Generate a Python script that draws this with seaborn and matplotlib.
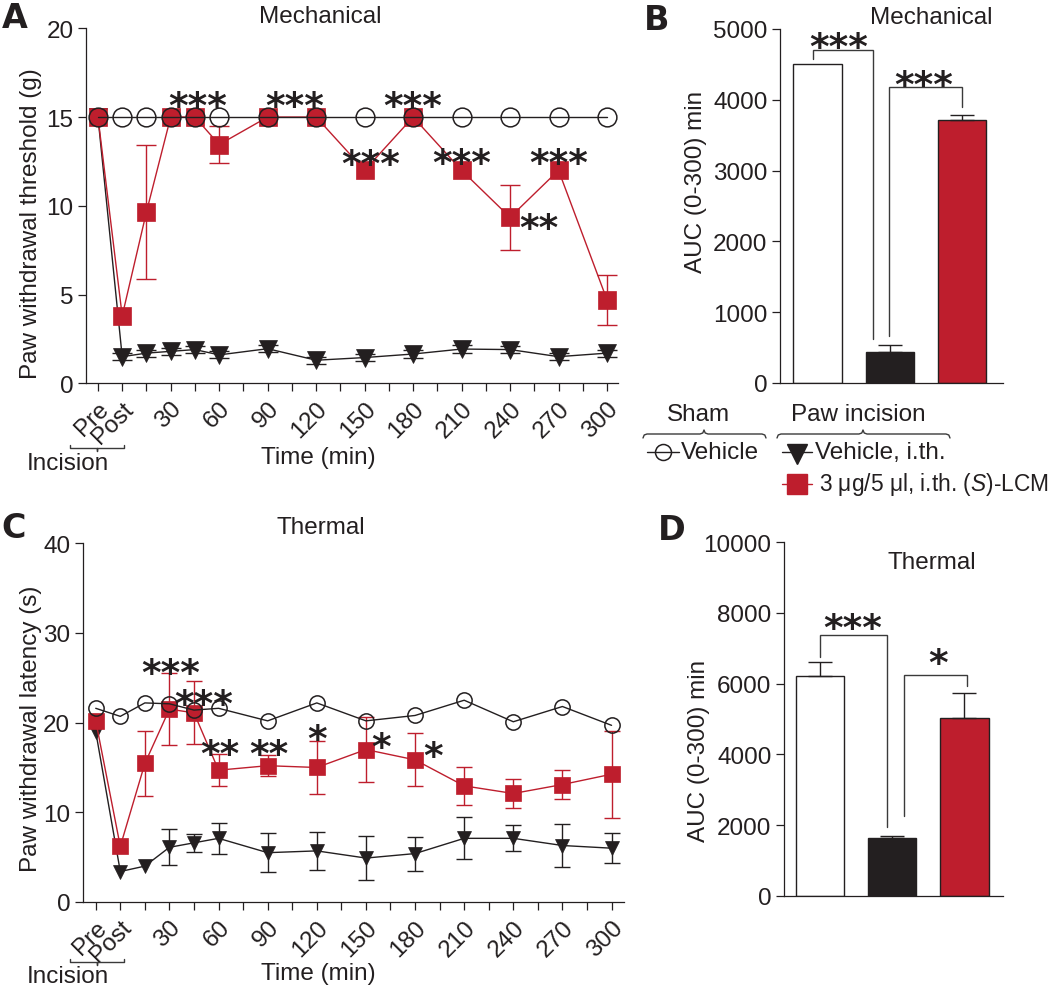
import numpy as np
import pandas as pd
import matplotlib
matplotlib.use("Agg")
import matplotlib.pyplot as plt
import seaborn as sns

# ------------------------------------------------------------------ data
time_labels = ["Pre", "Post", "15", "30", "45", "60", "90", "120", "150",
               "180", "210", "240", "270", "300"]
time_pos = [-15, 0, 15, 30, 45, 60, 90, 120, 150, 180, 210, 240, 270, 300]

xtick_pos = list(range(-15, 301, 15))
xtick_labels = ["Pre", "Post", "", "30", "", "60", "", "90", "", "120", "",
                "150", "", "180", "", "210", "", "240", "", "270", "", "300"]

# Mechanical (paw withdrawal threshold, g)
mech_sham = [15, 15, 15, 15, 15, 15, 15, 15, 15, 15, 15, 15, 15, 15]
mech_vehicle = [15.0, 1.5, 1.7, 1.8, 1.9, 1.6, 1.95, 1.3, 1.45, 1.65, 1.93, 1.9, 1.5, 1.7]
mech_vehicle_sem = [0, 0.2, 0.2, 0.2, 0.2, 0.2, 0.2, 0.2, 0.2, 0.2, 0.2, 0.2, 0.2, 0.2]
mech_lcm = [15, 3.8, 9.65, 15, 15, 13.45, 15, 15, 12, 15, 12, 9.35, 12, 4.7]
mech_lcm_sem = [0, 0, 3.75, 0, 0, 1.05, 0, 0, 0, 0, 0, 1.85, 0, 1.4]

# Thermal (paw withdrawal latency, s)
therm_sham = [21.6, 20.7, 22.2, 22.1, 21.4, 21.6, 20.2, 22.2, 20.2, 20.8, 22.5, 20.1, 21.8, 19.7]
therm_vehicle = [19.0, 3.4, 4.0, 6.1, 6.6, 7.1, 5.5, 5.7, 4.9, 5.4, 7.1, 7.1, 6.3, 6.0]
therm_vehicle_sem = [0, 0, 0, 2.0, 1.0, 1.75, 2.2, 2.1, 2.45, 1.9, 2.35, 1.45, 2.35, 1.7]
therm_lcm = [20.2, 6.2, 15.45, 21.5, 21.1, 14.7, 15.2, 15.0, 17.0, 15.85, 12.95, 12.1, 13.1, 14.25]
therm_lcm_sem = [0, 0, 3.6, 4.0, 3.5, 1.8, 1.2, 3.0, 3.6, 2.95, 2.15, 1.6, 1.6, 4.85]

# AUC bars
bar_groups = ["Sham, vehicle", "Incision, vehicle i.th.", "Incision, (S)-LCM i.th."]
auc_mech = [4510, 440, 3710]
auc_mech_sem = [0, 90, 70]
auc_therm = [6230, 1630, 5030]
auc_therm_sem = [370, 65, 710]

# significance labels: (text, x, y)
mech_stars = [("***", 47, 16.2), ("***", 107, 16.2), ("***", 180, 16.2),
              ("***", 154, 12.95), ("***", 210, 13.0), ("***", 270, 13.0),
              ("**", 258, 9.3)]
therm_stars = [("***", 31, 26.7), ("***", 51, 23.2), ("**", 61, 17.6),
               ("**", 91, 17.6), ("*", 120, 19.3), ("*", 159.5, 18.4),
               ("*", 191, 17.4)]
# brackets: (x_left, x_right, y_left_end, y_top, y_right_end, label, label_x, label_y)
mech_brackets = [(-0.06, 0.773, 4576, 4707, 624, "***", 0.29, 4883),
                 (0.995, 1.997, 659, 4185, 3893, "***", 1.475, 4356)]
therm_brackets = [(0.0, 0.93, 6745, 7377, 1953, "***", 0.45, 7849),
                  (1.16, 2.03, 2245, 6245, 5925, "*", 1.64, 6868)]

# ------------------------------------------------------------------ style
RED = "#BE1E2D"
BLACK = "#231F20"
FS = 17.5

sns.set_style("ticks")
plt.rcParams["font.family"] = ["Liberation Sans", "DejaVu Sans"]
plt.rcParams["mathtext.fontset"] = "custom"
plt.rcParams["mathtext.rm"] = "Liberation Sans"
plt.rcParams["mathtext.it"] = "Liberation Sans:italic"
plt.rcParams["axes.edgecolor"] = BLACK
plt.rcParams["axes.linewidth"] = 0.9
plt.rcParams["xtick.color"] = BLACK
plt.rcParams["ytick.color"] = BLACK
plt.rcParams["xtick.major.size"] = 6
plt.rcParams["ytick.major.size"] = 6
plt.rcParams["xtick.major.width"] = 0.9
plt.rcParams["ytick.major.width"] = 0.9
plt.rcParams["xtick.labelsize"] = FS
plt.rcParams["ytick.labelsize"] = FS
plt.rcParams["text.color"] = BLACK
plt.rcParams["axes.labelcolor"] = BLACK

W, H = 1050, 987
fig = plt.figure(figsize=(W / 100, H / 100), dpi=100)


def frac(left, top, right, bottom):
    return [left / W, 1 - bottom / H, (right - left) / W, (bottom - top) / H]


ax_a = fig.add_axes(frac(86, 29.3, 618, 384.3))
ax_b = fig.add_axes(frac(780, 30, 1003, 384))
ax_c = fig.add_axes(frac(82.8, 544.3, 624, 903))
ax_d = fig.add_axes(frac(784, 543.3, 1003, 896.7))


def star(ax, txt, x, y, **kw):
    ax.annotate(txt, (x, y), xytext=(0, -8), textcoords="offset points",
                ha="center", va="center", fontsize=27, fontweight="bold",
                family="DejaVu Sans", color=BLACK, annotation_clip=False, **kw)


def time_panel(ax, sham, veh, veh_sem, lcm, lcm_sem, ms, cap, xlim, ylim, yticks):
    df = pd.DataFrame({"time": time_pos, "sham": sham, "veh": veh, "lcm": lcm})
    lw = 1.0
    # vehicle, i.th.
    vs = np.array(veh_sem, dtype=float)
    m = vs > 0
    ax.errorbar(np.array(time_pos)[m], np.array(veh)[m], yerr=vs[m], fmt="none",
                ecolor=BLACK, elinewidth=lw, capsize=cap, capthick=lw, zorder=2.5)
    sns.lineplot(data=df, x="time", y="veh", ax=ax, color=BLACK, lw=lw,
                 marker="v", markersize=ms["v"], markerfacecolor=BLACK,
                 markeredgecolor=BLACK, markeredgewidth=0.5,
                 estimator=None, errorbar=None, sort=False, zorder=3)
    # (S)-LCM
    ls = np.array(lcm_sem, dtype=float)
    m = ls > 0
    ax.errorbar(np.array(time_pos)[m], np.array(lcm)[m], yerr=ls[m], fmt="none",
                ecolor=RED, elinewidth=lw, capsize=cap, capthick=lw, zorder=3.5)
    sns.lineplot(data=df, x="time", y="lcm", ax=ax, color=RED, lw=lw,
                 marker="s", markersize=ms["s"], markerfacecolor=RED,
                 markeredgecolor=RED, markeredgewidth=0.5,
                 estimator=None, errorbar=None, sort=False, zorder=4)
    # sham
    sns.lineplot(data=df, x="time", y="sham", ax=ax, color=BLACK, lw=lw,
                 marker="o", markersize=ms["o"], markerfacecolor="none",
                 markeredgecolor=BLACK, markeredgewidth=1.1,
                 estimator=None, errorbar=None, sort=False, zorder=5)
    ax.set_xlim(*xlim)
    ax.set_ylim(*ylim)
    ax.set_yticks(yticks)
    ax.set_xticks(xtick_pos)
    ax.set_xticklabels(xtick_labels, rotation=45, ha="right", va="top",
                       rotation_mode="anchor")
    ax.tick_params(axis="x", pad=4)
    ax.tick_params(axis="y", pad=3)
    sns.despine(ax=ax)
    ax.spines["left"].set_bounds(ylim[0], ylim[1])


time_panel(ax_a, mech_sham, mech_vehicle, mech_vehicle_sem, mech_lcm, mech_lcm_sem,
           {"v": 13.5, "s": 13.5, "o": 13.5}, 7, (-22.4, 306.8), (0, 20), [0, 5, 10, 15, 20])
time_panel(ax_c, therm_sham, therm_vehicle, therm_vehicle_sem, therm_lcm, therm_lcm_sem,
           {"v": 10, "s": 11.5, "o": 11}, 5.8, (-22.9, 307.6), (0, 40), [0, 10, 20, 30, 40])

ax_a.set_ylabel("Paw withdrawal threshold (g)", fontsize=FS)
ax_a.yaxis.set_label_coords(-0.083, 0.454)
ax_a.set_xlabel("Time (min)", fontsize=FS)
ax_a.xaxis.set_label_coords(0.436, -0.178)
ax_a.text(0.44, 1.034, "Mechanical", transform=ax_a.transAxes, ha="center",
          va="center", fontsize=FS)

ax_c.set_ylabel("Paw withdrawal latency (s)", fontsize=FS)
ax_c.yaxis.set_label_coords(-0.075, 0.485)
ax_c.set_xlabel("Time (min)", fontsize=FS)
ax_c.xaxis.set_label_coords(0.435, -0.168)
ax_c.text(0.44, 1.045, "Thermal", transform=ax_c.transAxes, ha="center",
          va="center", fontsize=FS)

for txt, x, y in mech_stars:
    star(ax_a, txt, x, y, zorder=6)
for txt, x, y in therm_stars:
    star(ax_c, txt, x, y, zorder=6)


def bar_panel(ax, vals, sems, xlim, ylim, yticks, brackets):
    df = pd.DataFrame({"group": bar_groups, "auc": vals})
    pal = dict(zip(bar_groups, ["white", BLACK, RED]))
    sns.barplot(data=df, x="group", y="auc", hue="group", palette=pal, legend=False,
                width=0.67, edgecolor=BLACK, linewidth=1.0, errorbar=None, ax=ax,
                saturation=1)
    s = np.array(sems, dtype=float)
    m = s > 0
    xs = np.arange(len(vals))[m]
    ax.errorbar(xs, np.array(vals)[m], yerr=[np.zeros(m.sum()), s[m]], fmt="none",
                ecolor=BLACK, elinewidth=1.0, capsize=8.4, capthick=1.0, zorder=1)
    for xl, xr, yl, yt, yr, lab, lx, ly in brackets:
        ax.plot([xl, xl, xr, xr], [yl, yt, yt, yr], color="#3a3a3a", lw=1.0,
                solid_joinstyle="miter", clip_on=False)
        star(ax, lab, lx, ly)
    ax.set_xlim(*xlim)
    ax.set_ylim(*ylim)
    ax.set_yticks(yticks)
    ax.set_xticks([])
    ax.set_xlabel("")
    ax.set_ylabel("AUC (0-300) min", fontsize=FS)
    ax.tick_params(axis="y", pad=3)
    sns.despine(ax=ax)


bar_panel(ax_b, auc_mech, auc_mech_sem, (-0.52, 2.57), (0, 5000),
          [0, 1000, 2000, 3000, 4000, 5000], mech_brackets)
ax_b.yaxis.set_label_coords(-0.327, 0.571)
ax_b.text(0.68, 1.034, "Mechanical", transform=ax_b.transAxes, ha="center",
          va="center", fontsize=FS)

bar_panel(ax_d, auc_therm, auc_therm_sem, (-0.503, 2.536), (0, 10000),
          [0, 2000, 4000, 6000, 8000, 10000], therm_brackets)
ax_d.yaxis.set_label_coords(-0.338, 0.412)
ax_d.text(0.676, 0.944, "Thermal", transform=ax_d.transAxes, ha="center",
          va="center", fontsize=FS)

# ------------------------------------------------------------------ overlay (pixel coords)
ov = fig.add_axes([0, 0, 1, 1], zorder=10)
ov.set_xlim(0, W)
ov.set_ylim(H, 0)
ov.axis("off")
ov.patch.set_alpha(0)

for lab, x, y in [("A", 15, 18), ("B", 657, 20), ("C", 14, 528), ("D", 672, 530)]:
    ov.text(x, y, lab, ha="center", va="center", fontsize=24, fontweight="bold",
            family="DejaVu Sans", color=BLACK)


def incision(y_line, y_text):
    ov.plot([70, 70, 97, 97, 97, 124, 124], [y_line - 3, y_line, y_line, y_line + 3,
            y_line, y_line, y_line - 3], color="#3a3a3a", lw=1.0)
    ov.text(68, y_text, "Incision", ha="center", va="center", fontsize=FS)


incision(449, 464)
incision(963, 977)


def brace(x0, x1, xc, y):
    xs = [x0, x0 + 1.2, x0 + 4, xc - 4, xc - 1.2, xc, xc + 1.2, xc + 4, x1 - 4, x1 - 1.2, x1]
    ys = [y + 4, y + 1, y, y, y - 1, y - 4, y - 1, y, y, y + 1, y + 4]
    ov.plot(xs, ys, color="#3a3a3a", lw=1.0)


ov.text(698, 415, "Sham", ha="center", va="center", fontsize=FS)
brace(643, 766, 704, 435)
ov.text(858, 415, "Paw incision", ha="center", va="center", fontsize=FS)
brace(777, 950, 863, 435)

ov.plot([647, 679], [453, 453], color=BLACK, lw=1.0)
ov.plot([663], [453], marker="o", ms=11.5, mfc="none", mec=BLACK, mew=1.1)
ov.text(681, 453, "Vehicle", ha="left", va="center", fontsize=FS)

ov.plot([782, 812], [453, 453], color=BLACK, lw=1.0)
ov.plot([797], [455], marker="v", ms=14, mfc=BLACK, mec=BLACK)
ov.text(815, 453, "Vehicle, i.th.", ha="left", va="center", fontsize=FS)

ov.plot([782, 812], [485, 485], color=RED, lw=1.0)
ov.plot([797], [485], marker="s", ms=14.5, mfc=RED, mec=RED)
ov.text(819, 485, "3 μg/5 μl, i.th. ($\\mathit{S}$)-LCM", ha="left", va="center",
        fontsize=16.4)

fig.savefig("out.png", dpi=100)
